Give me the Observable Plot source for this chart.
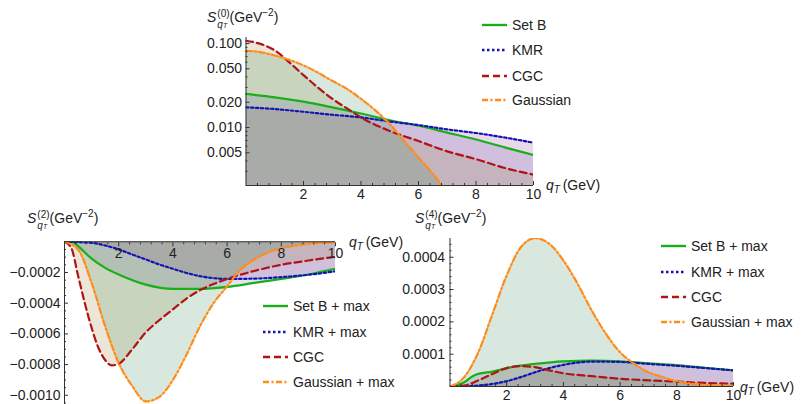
<!DOCTYPE html>
<html><head><meta charset="utf-8">
<script src="https://cdn.jsdelivr.net/npm/d3@7"></script>
<script src="https://cdn.jsdelivr.net/npm/@observablehq/plot@0.6"></script>
<style>
body{margin:0;background:#fff;font-family:"Liberation Sans",Arial,sans-serif;}
#root{position:relative;width:803px;height:404px;overflow:hidden;background:#fff;}
.panel{position:absolute;}
.t{position:absolute;font-size:14px;color:#222;white-space:nowrap;line-height:16px;}
.ss{display:inline-block;vertical-align:-6px;font-size:10px;line-height:11px;text-align:left;margin-left:1px;}
.ss > span{display:block;}
.sub2{font-size:7px;font-style:italic;}
.leg{position:absolute;font-size:14px;color:#222;white-space:nowrap;line-height:16px;}
.leg svg{position:absolute;left:0;top:3px;}
</style></head><body><div id="root"></div>
<script>
// ---------------- data ----------------
const KEYS = ["SetB","KMR","CGC","Gauss"];
// Panel (0): S^(0), log scale
const q0 = [0,1,2,3,4,5,6,7,8,9,10];
const setB0 = [0.0251,0.0229,0.0203,0.0174,0.0147,0.0122,0.0105,0.0087,0.0072,0.0058,0.0047];
const kmr0 = [0.0174,0.0166,0.0154,0.0142,0.0132,0.0118,0.0107,0.0095,0.0086,0.0076,0.0066];
const qCgc0 = [0,0.5,1,1.5,2,2.5,3,3.5,4,5,6,7,8,9,10];
const cgc0 = [0.108,0.099,0.083,0.060,0.042,0.030,0.022,0.017,0.0132,0.0091,0.0069,0.0052,0.0042,0.0033,0.00275];
const qGau0 = [0,0.5,1,1.5,2,2.5,3,3.5,4,4.5,5,5.5,6,6.5,7];
const gau0 = [0.082,0.079,0.072,0.064,0.055,0.045,0.036,0.029,0.022,0.016,0.011,0.0069,0.0044,0.0028,0.0017];

// Panel (2)
const qSetB2 = [0,0.3,0.5,1,1.5,2,3,4,5,6,7,8,9,10];
const setB2 = [0,-0.02e-4,-0.28e-4,-1.1e-4,-1.7e-4,-2.13e-4,-2.79e-4,-3.07e-4,-3.07e-4,-2.94e-4,-2.68e-4,-2.42e-4,-2.13e-4,-1.76e-4];
const qKmr2 = [0,1,1.5,2,2.5,3,3.5,4,4.5,5,5.5,6,7,8,9,10];
const kmr2 = [0,-0.07e-4,-0.24e-4,-0.5e-4,-0.83e-4,-1.15e-4,-1.48e-4,-1.76e-4,-2.03e-4,-2.24e-4,-2.37e-4,-2.42e-4,-2.4e-4,-2.3e-4,-2.15e-4,-1.92e-4];
const qCgc2 = [0,0.25,0.5,0.75,1,1.25,1.5,1.75,2,2.5,3,3.5,4,4.5,5,5.5,6,7,8,9,10];
const cgc2 = [0,-0.4e-4,-2.2e-4,-4.0e-4,-5.6e-4,-6.9e-4,-7.7e-4,-8.05e-4,-7.95e-4,-7.0e-4,-5.9e-4,-5.1e-4,-4.4e-4,-3.7e-4,-3.15e-4,-2.75e-4,-2.42e-4,-1.9e-4,-1.5e-4,-1.22e-4,-0.98e-4];
const qGau2 = [0,0.5,1,1.5,2,2.5,3,3.5,4,4.5,5,5.5,6,6.5,7,7.5,8,8.5,9,10];
const gau2 = [0,-0.5e-4,-2.68e-4,-5.5e-4,-7.9e-4,-9.4e-4,-10.4e-4,-10.1e-4,-9.0e-4,-7.36e-4,-5.5e-4,-4.0e-4,-2.9e-4,-1.8e-4,-1.15e-4,-0.7e-4,-0.42e-4,-0.25e-4,-0.13e-4,-0.03e-4];

// Panel (4)
const qSetB4 = [0,0.5,0.8,1,1.5,2,3,4,5,6,7,8,9,10];
const setB4 = [0,1.3e-5,3.2e-5,3.9e-5,4.6e-5,5.7e-5,7.0e-5,7.8e-5,8.0e-5,7.8e-5,7.2e-5,6.6e-5,5.8e-5,5.0e-5];
const qKmr4 = [0,1,1.5,2,2.5,3,3.5,4,4.5,5,6,7,8,9,10];
const kmr4 = [0,0.3e-5,0.8e-5,1.65e-5,2.9e-5,4.4e-5,5.7e-5,6.7e-5,7.4e-5,7.7e-5,7.6e-5,7.0e-5,6.4e-5,5.7e-5,5.0e-5];
const qCgc4 = [0,0.5,1,1.5,2,2.5,3,3.5,4,5,6,7,8,9,10];
const cgc4 = [0,0.3e-5,1.9e-5,3.9e-5,5.7e-5,6.3e-5,6.0e-5,5.0e-5,4.1e-5,3.2e-5,2.4e-5,1.9e-5,1.5e-5,1.1e-5,0.9e-5];
const qGau4 = [0,0.5,1,1.5,2,2.5,3,3.5,4,4.5,5,5.5,6,6.5,7,7.5,8,9,10];
const gau4 = [0,2.9e-5,10.6e-5,22.5e-5,34.4e-5,43.1e-5,45.9e-5,44.2e-5,39e-5,31.8e-5,23.5e-5,16.3e-5,10.6e-5,7.0e-5,4.4e-5,2.9e-5,1.65e-5,0.5e-5,0.2e-5];

// tick labels / legend labels
const xMajor = [2,4,6,8,10];
const y0Major = [0.005,0.01,0.02,0.05,0.1];
const y2Major = [-0.0002,-0.0004,-0.0006,-0.0008,-0.0010];
const y4Major = [0.0001,0.0002,0.0003,0.0004];
const legend0 = ["Set B","KMR","CGC","Gaussian"];
const legend24 = ["Set B + max","KMR + max","CGC","Gaussian + max"];

// ---------------- style ----------------
const COLORS = {SetB:"#1aae1a", KMR:"#1414b0", CGC:"#b01414", Gauss:"#ff8c1a"};
const DASH = {SetB:null, KMR:"2.5,2.5", CGC:"7,4", Gauss:"6,2.5,2,2.5"};
const FILL = {SetB:"rgb(60,60,160)", KMR:"rgb(130,40,140)", CGC:"rgb(155,130,60)", Gauss:"rgb(60,140,90)"};
const FOP = {SetB:0.15, KMR:0.18, CGC:0.2, Gauss:0.2};
const AX = "#333";
const FONT = "Liberation Sans, Arial, sans-serif";
const xMinor = d3.range(0.4, 10.01, 0.4).filter(v => !xMajor.some(m => Math.abs(m - v) < 1e-6));

function mk(xs, ys){ return xs.map((x,i)=>({x, y: ys[i]})); }
const s0 = {SetB: mk(q0,setB0), KMR: mk(q0,kmr0), CGC: mk(qCgc0,cgc0), Gauss: mk(qGau0,gau0)};
const s2 = {SetB: mk(qSetB2,setB2), KMR: mk(qKmr2,kmr2), CGC: mk(qCgc2,cgc2), Gauss: mk(qGau2,gau2)};
const s4 = {SetB: mk(qSetB4,setB4), KMR: mk(qKmr4,kmr4), CGC: mk(qCgc4,cgc4), Gauss: mk(qGau4,gau4)};

const root = document.getElementById("root");
const style = {fontFamily: FONT, fontSize: "14px", color: "#222", background: "transparent", overflow: "visible"};

function curves(s, base) {
  return [
    ...KEYS.map(k => Plot.areaY(s[k], {x:"x", y1: base, y2:"y", fill: FILL[k], fillOpacity: FOP[k], curve:"monotone-x", clip: true})),
    ...KEYS.map(k => Plot.line(s[k], {x:"x", y:"y", stroke: COLORS[k], strokeWidth: 2.2, strokeDasharray: DASH[k], curve:"monotone-x", clip: true}))
  ];
}

function place(el, left, top) {
  const d = document.createElement("div");
  d.className = "panel"; d.style.left = left + "px"; d.style.top = top + "px";
  d.appendChild(el); root.appendChild(d);
}
const NL = {label: null};

// ---------------- panel (0) ----------------
const Y0 = [0.00204, 0.118];
const y0Minor = [0.003,0.004,0.006,0.007,0.008,0.009,0.03,0.04,0.06,0.07,0.08,0.09];
place(Plot.plot({
  width: 380, height: 205, marginLeft: 65.5, marginRight: 27, marginTop: 37, marginBottom: 20,
  style,
  x: {domain: [0,10], label: null},
  y: {type: "log", domain: Y0, label: null},
  marks: [
    ...curves(s0, Y0[0]),
    Plot.ruleX([0], {stroke: AX}),
    Plot.ruleY([Y0[0]], {stroke: AX}),
    Plot.axisX({...NL, ticks: xMajor, tickSize: -4, tickFormat: () => "", stroke: AX}),
    Plot.axisX({...NL, ticks: xMinor, tickSize: -2, tickFormat: () => "", stroke: AX}),
    Plot.axisX({...NL, ticks: xMajor, tickSize: 0, tickPadding: 4, tickFormat: d => String(d), fill: "#222"}),
    Plot.axisY({...NL, ticks: y0Major, tickSize: -4, tickFormat: () => "", stroke: AX}),
    Plot.axisY({...NL, ticks: y0Minor, tickSize: -2, tickFormat: () => "", stroke: AX}),
    Plot.axisY({...NL, ticks: y0Major, tickSize: 0, tickPadding: 4, tickFormat: d3.format(".3f"), fill: "#222"})
  ]
}), 180, 0);

// ---------------- panel (2) ----------------
const Y2 = [-0.00106, 0];
const y2Minor = d3.range(-0.00105, -0.00001, 0.00005).filter(v => !y2Major.some(m => Math.abs(m - v) < 1e-9));
place(Plot.plot({
  width: 400, height: 179, marginLeft: 64, marginRight: 65, marginTop: 16.3, marginBottom: 0,
  style,
  x: {domain: [0,10], label: null},
  y: {domain: Y2, label: null},
  marks: [
    ...curves(s2, 0),
    Plot.ruleX([0], {stroke: AX}),
    Plot.ruleY([0], {stroke: AX}),
    Plot.axisX({...NL, anchor: "top", ticks: xMajor, tickSize: -4, tickFormat: () => "", stroke: AX}),
    Plot.axisX({...NL, anchor: "top", ticks: xMinor, tickSize: -2, tickFormat: () => "", stroke: AX}),
    Plot.text(xMajor, {x: d => d, y: 0, dy: 12, text: d => String(d), fill: "#222", fontSize: 14}),
    Plot.axisY({...NL, ticks: y2Major, tickSize: -4, tickFormat: () => "", stroke: AX}),
    Plot.axisY({...NL, ticks: y2Minor, tickSize: -2, tickFormat: () => "", stroke: AX}),
    Plot.axisY({...NL, ticks: y2Major, tickSize: 0, tickPadding: 4, tickFormat: d => "\u2212" + Math.abs(d).toFixed(4), fill: "#222"})
  ]
}), 0, 225);

// ---------------- panel (4) ----------------
const Y4 = [0, 0.000458];
const y4Minor = d3.range(0.00002, 0.00045, 0.00002).filter(v => !y4Major.some(m => Math.abs(m - v) < 1e-9));
place(Plot.plot({
  width: 403, height: 179, marginLeft: 49.5, marginRight: 70, marginTop: 13, marginBottom: 18,
  style,
  x: {domain: [0,10], label: null},
  y: {domain: Y4, label: null},
  marks: [
    ...curves(s4, 0),
    Plot.ruleX([0], {stroke: AX}),
    Plot.ruleY([0], {stroke: AX}),
    Plot.axisX({...NL, ticks: xMajor, tickSize: -4, tickFormat: () => "", stroke: AX}),
    Plot.axisX({...NL, ticks: xMinor, tickSize: -2, tickFormat: () => "", stroke: AX}),
    Plot.axisX({...NL, ticks: xMajor, tickSize: 0, tickPadding: 4, tickFormat: d => String(d), fill: "#222"}),
    Plot.axisY({...NL, ticks: y4Major, tickSize: -4, tickFormat: () => "", stroke: AX}),
    Plot.axisY({...NL, ticks: y4Minor, tickSize: -2, tickFormat: () => "", stroke: AX}),
    Plot.axisY({...NL, ticks: y4Major, tickSize: 0, tickPadding: 5, tickFormat: d3.format(".4f"), fill: "#222"})
  ]
}), 400, 225);

// ---------------- text: titles, axis labels, legends ----------------
function html(left, top, inner, cls) {
  const d = document.createElement("div");
  d.className = cls || "t"; d.style.left = left + "px"; d.style.top = top + "px";
  d.innerHTML = inner; root.appendChild(d); return d;
}
function title(n) {
  return `<i>S</i><span class="ss"><span>(${n})</span><span><i>q</i><span class="sub2">T</span></span></span>(GeV<sup style="font-size:10px">\u22122</sup>)`;
}
const qLabel = `<i>q</i><span style="font-size:10px;font-style:italic;position:relative;top:3px">T</span>\u2009(GeV)`;
html(207, 5, title(0));
html(27, 206, title(2));
html(415, 206, title(4));
html(546, 177, qLabel);
html(349, 234, qLabel);
html(740, 379, qLabel);

function legend(x, ys, labels) {
  KEYS.forEach((k, i) => {
    const d = html(x, ys[i] - 8, "", "leg");
    d.style.paddingLeft = "30px";
    const dash = DASH[k] ? `stroke-dasharray="${DASH[k]}"` : "";
    d.innerHTML = `<svg width="26" height="10"><line x1="0" y1="5" x2="25" y2="5" stroke="${COLORS[k]}" stroke-width="2.4" ${dash}/></svg>` + labels[i];
  });
}
legend(482, [25, 50, 76, 100], legend0);
legend(263, [306, 332, 357, 382], legend24);
legend(661, [246, 272, 297, 322], legend24);
</script></body></html>
